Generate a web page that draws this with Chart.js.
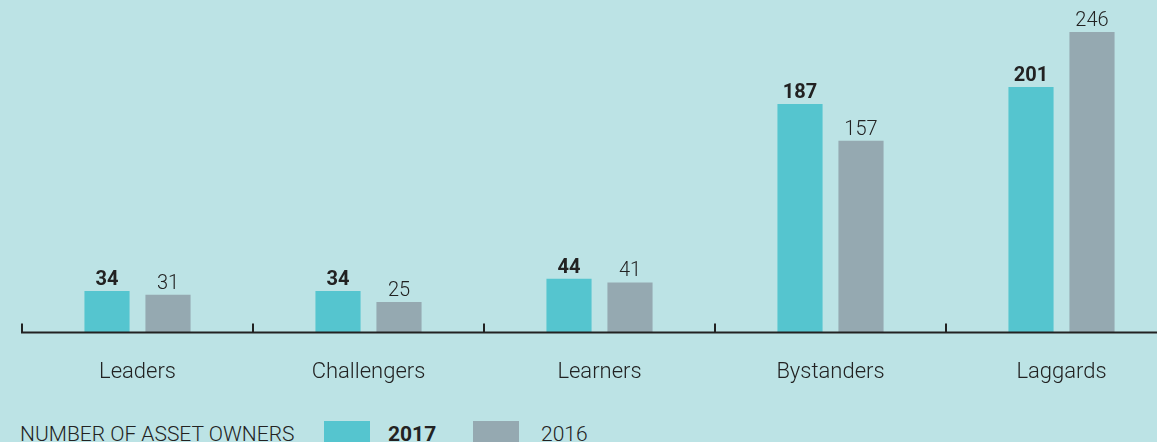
<!DOCTYPE html>
<html>
<head>
<meta charset="utf-8">
<script src="https://cdn.jsdelivr.net/npm/chart.js@4/dist/chart.umd.min.js"></script>
<style>
  html, body { margin: 0; padding: 0; background: #bce3e5; overflow: hidden; width: 1157px; height: 442px; }
  #wrap { position: absolute; left: 0; top: 0; width: 1180px; height: 405px; }
  #legend { position: absolute; left: 20px; top: 421px; height: 30px; font-family: Roboto, sans-serif; font-size: 21px; font-weight: 300; color: #222; white-space: nowrap; }
  #legend span { position: absolute; top: 1px; }
  #legend .box { position: absolute; top: 0; width: 46px; height: 30px; }
</style>
</head>
<body>
<div id="wrap"><canvas id="bar_chart"></canvas></div>
<div id="legend"></div>
<script>
// data
var categories = ["Leaders", "Challengers", "Learners", "Bystanders", "Laggards"];
var owners_2017 = [34, 34, 44, 187, 201];
var owners_2016 = [31, 25, 41, 157, 246];
var series_labels = ["2017", "2016"];
var legend_title = "NUMBER OF ASSET OWNERS";

var teal = "#55c5cf";
var grey = "#95a9b1";
var ink = "#222222";

// value labels above bars, 2017 in bold
var valueLabels = {
  id: "valueLabels",
  afterDatasetsDraw: function(chart) {
    var ctx = chart.ctx;
    ctx.save();
    ctx.fillStyle = ink;
    ctx.textAlign = "center";
    ctx.textBaseline = "bottom";
    chart.data.datasets.forEach(function(ds, i) {
      var meta = chart.getDatasetMeta(i);
      ctx.font = (i == 0 ? "bold " : "300 ") + "20px Roboto, sans-serif";
      meta.data.forEach(function(bar, j) {
        ctx.fillText(ds.data[j], bar.x, bar.y - 1);
      });
    });
    ctx.restore();
  }
};

// baseline with small upward ticks between categories
var baseAxis = {
  id: "baseAxis",
  afterDraw: function(chart) {
    var ctx = chart.ctx;
    var xs = chart.scales.x;
    var y = chart.scales.y.getPixelForValue(0);
    var step = xs.getPixelForTick(1) - xs.getPixelForTick(0);
    ctx.save();
    ctx.strokeStyle = ink;
    ctx.lineWidth = 2;
    ctx.beginPath();
    var left = xs.getPixelForTick(0) - step / 2;
    ctx.moveTo(left - 1, y);
    ctx.lineTo(chart.width, y);
    for (var t = 0; t < categories.length; t++) {
      var tx = xs.getPixelForTick(t) - step / 2;
      ctx.moveTo(tx, y);
      ctx.lineTo(tx, y - 9);
    }
    ctx.stroke();
    ctx.restore();
  }
};

var ctx = document.getElementById("bar_chart");
var bar_chart = new Chart(ctx, {
  type: "bar",
  data: {
    labels: categories,
    datasets: [
      { label: series_labels[0], data: owners_2017, backgroundColor: teal },
      { label: series_labels[1], data: owners_2016, backgroundColor: grey }
    ]
  },
  options: {
    responsive: true,
    maintainAspectRatio: false,
    animation: false,
    categoryPercentage: 0.528,
    barPercentage: 0.74,
    layout: { padding: { left: 22, right: 3, top: 10, bottom: 0 } },
    plugins: {
      legend: { display: false },
      tooltip: { enabled: false }
    },
    scales: {
      x: {
        grid: { display: false },
        border: { display: false },
        ticks: { color: ink, font: { family: "Roboto", size: 22, weight: 300 }, padding: 19 }
      },
      y: {
        display: false,
        min: 0,
        max: 264
      }
    }
  },
  plugins: [valueLabels, baseAxis]
});

// legend row
var legend = document.getElementById("legend");
var html = "<span style='left:0'>" + legend_title + "</span>";
html += "<div class='box' style='left:304px;background:" + teal + "'></div>";
html += "<span style='left:368px;font-weight:bold'>" + series_labels[0] + "</span>";
html += "<div class='box' style='left:453px;background:" + grey + "'></div>";
html += "<span style='left:521px'>" + series_labels[1] + "</span>";
legend.innerHTML = html;
</script>
</body>
</html>
